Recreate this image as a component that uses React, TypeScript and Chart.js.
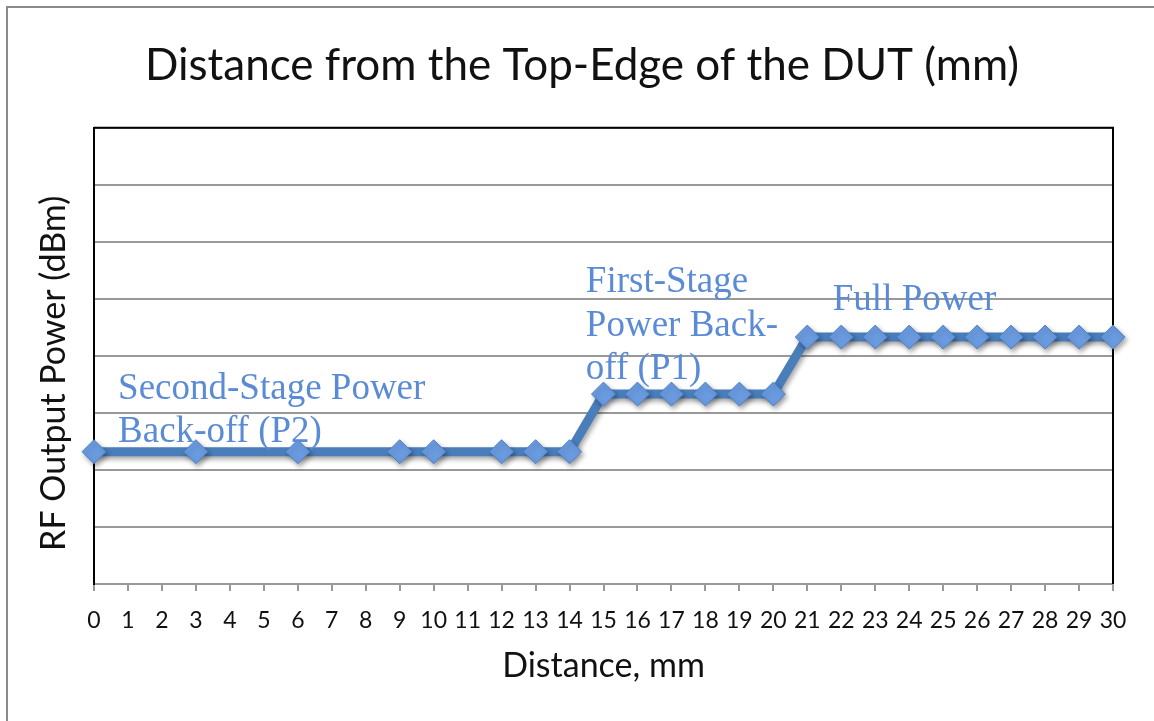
import React, { useEffect, useRef } from "react";
import { Chart, registerables } from "chart.js";

Chart.register(...registerables);

const distances = [0, 3, 6, 9, 10, 12, 13, 14, 15, 16, 17, 18, 19, 20, 21, 22, 23, 24, 25, 26, 27, 28, 29, 30];
const power = [2.32, 2.32, 2.32, 2.32, 2.32, 2.32, 2.32, 2.32, 3.33, 3.33, 3.33, 3.33, 3.33, 3.33, 4.33, 4.33, 4.33, 4.33, 4.33, 4.33, 4.33, 4.33, 4.33, 4.33];
const xTickMin = 0;
const xTickMax = 30;
const yMin = 0;
const yMax = 8;

const annotationTexts = [
  ["Second-Stage Power", "Back-off (P2)"],
  ["First-Stage", "Power Back-", "off (P1)"],
  ["Full Power"],
];
const annotationX = [0.71, 14.48, 21.75];
const annotationY = [3.25, 5.12, 4.81];

const SANS = "Lato, 'Open Sans', sans-serif";
const SERIF = "'Liberation Serif', 'DejaVu Serif', serif";

const framePlugin = {
  id: "frame",
  beforeDraw(chart: any) {
    const ctx = chart.ctx;
    ctx.save();
    ctx.fillStyle = "#ffffff";
    ctx.fillRect(0, 0, chart.width, chart.height);
    ctx.strokeStyle = "#8a8a8a";
    ctx.lineWidth = 2;
    ctx.beginPath();
    ctx.moveTo(7, chart.height + 2);
    ctx.lineTo(7, 7);
    ctx.lineTo(chart.width + 2, 7);
    ctx.stroke();
    ctx.restore();
  },
  beforeDatasetsDraw(chart: any) {
    const { ctx, chartArea } = chart;
    ctx.save();
    ctx.strokeStyle = "#000000";
    ctx.lineWidth = 2;
    ctx.beginPath();
    ctx.moveTo(chartArea.left, chartArea.top);
    ctx.lineTo(chartArea.right, chartArea.top);
    ctx.lineTo(chartArea.right, chartArea.bottom);
    ctx.stroke();
    ctx.restore();
    ctx.save();
    ctx.shadowColor = "rgba(0,0,0,0.35)";
    ctx.shadowBlur = 5;
    ctx.shadowOffsetX = 2;
    ctx.shadowOffsetY = 3;
  },
  afterDatasetsDraw(chart: any) {
    const ctx = chart.ctx;
    ctx.restore();
    const xs = chart.scales.x;
    const ys = chart.scales.y;
    ctx.save();
    ctx.fillStyle = "#5b8bd6";
    ctx.font = "37px " + SERIF;
    ctx.textAlign = "left";
    ctx.textBaseline = "alphabetic";
    annotationTexts.forEach((lines, i) => {
      const px = xs.getPixelForValue(annotationX[i]);
      const py = ys.getPixelForValue(annotationY[i]);
      lines.forEach((line, j) => {
        ctx.fillText(line, px, py + j * 43.5);
      });
    });
    ctx.restore();
  },
};

export default function App() {
  const ref = useRef<HTMLCanvasElement>(null);
  useEffect(() => {
    if (!ref.current) return;
    const chart = new Chart(ref.current, {
      type: "line",
      data: {
        datasets: [
          {
            data: distances.map((d, i) => ({ x: d, y: power[i] })),
            borderColor: "#4a7ebb",
            borderWidth: 9,
            pointStyle: "rectRot",
            pointRadius: 12,
            pointBackgroundColor: "#6a9be0",
            pointBorderColor: "#4f83c8",
            pointBorderWidth: 1,
            tension: 0,
            clip: false,
          } as any,
        ],
      },
      options: {
        responsive: false,
        animation: false,
        events: [],
        layout: { padding: { left: 10, right: 0, top: 0, bottom: 0 } },
        plugins: {
          legend: { display: false },
          tooltip: { enabled: false },
          title: {
            display: true,
            text: "Distance from the Top-Edge of the DUT (mm)",
            color: "#111111",
            font: { family: SANS, size: 44, weight: "normal" },
            padding: { top: 39, bottom: 36 },
          },
        },
        scales: {
          x: {
            type: "linear",
            position: "bottom",
            min: xTickMin,
            max: xTickMax,
            ticks: {
              stepSize: 1,
              autoSkip: false,
              maxRotation: 0,
              color: "#111111",
              font: { family: SANS, size: 23 },
              padding: 16,
            },
            grid: {
              drawOnChartArea: false,
              drawTicks: true,
              tickLength: 7,
              color: "#999999",
              lineWidth: 2,
            },
            border: { display: true, color: "#999999", width: 2 },
            title: {
              display: true,
              text: "Distance, mm",
              color: "#111111",
              font: { family: SANS, size: 34 },
              padding: { top: 0, bottom: 35 },
            },
            afterFit: (s: any) => {
              s.height = 137;
            },
          },
          y: {
            type: "linear",
            position: "left",
            min: yMin,
            max: yMax,
            ticks: { display: false, stepSize: 1 },
            grid: { drawTicks: false, color: "#999999", lineWidth: 2 },
            border: { display: true, color: "#000000", width: 2 },
            title: {
              display: true,
              text: "RF Output Power (dBm)    ",
              color: "#111111",
              font: { family: SANS, size: 34 },
              padding: { top: 24, bottom: 0 },
            },
            afterFit: (s: any) => {
              s.width = 84;
            },
          },
          y2: {
            type: "linear",
            position: "right",
            display: true,
            ticks: { display: false },
            grid: { display: false, drawTicks: false },
            border: { display: false },
            afterFit: (s: any) => {
              s.width = 41;
            },
          },
        },
      },
      plugins: [framePlugin],
    } as any);
    return () => chart.destroy();
  }, []);
  return (
    <div style={{ position: "absolute", left: 0, top: 0, width: 1154, height: 721 }}>
      <canvas ref={ref} width={1154} height={721} />
    </div>
  );
}
